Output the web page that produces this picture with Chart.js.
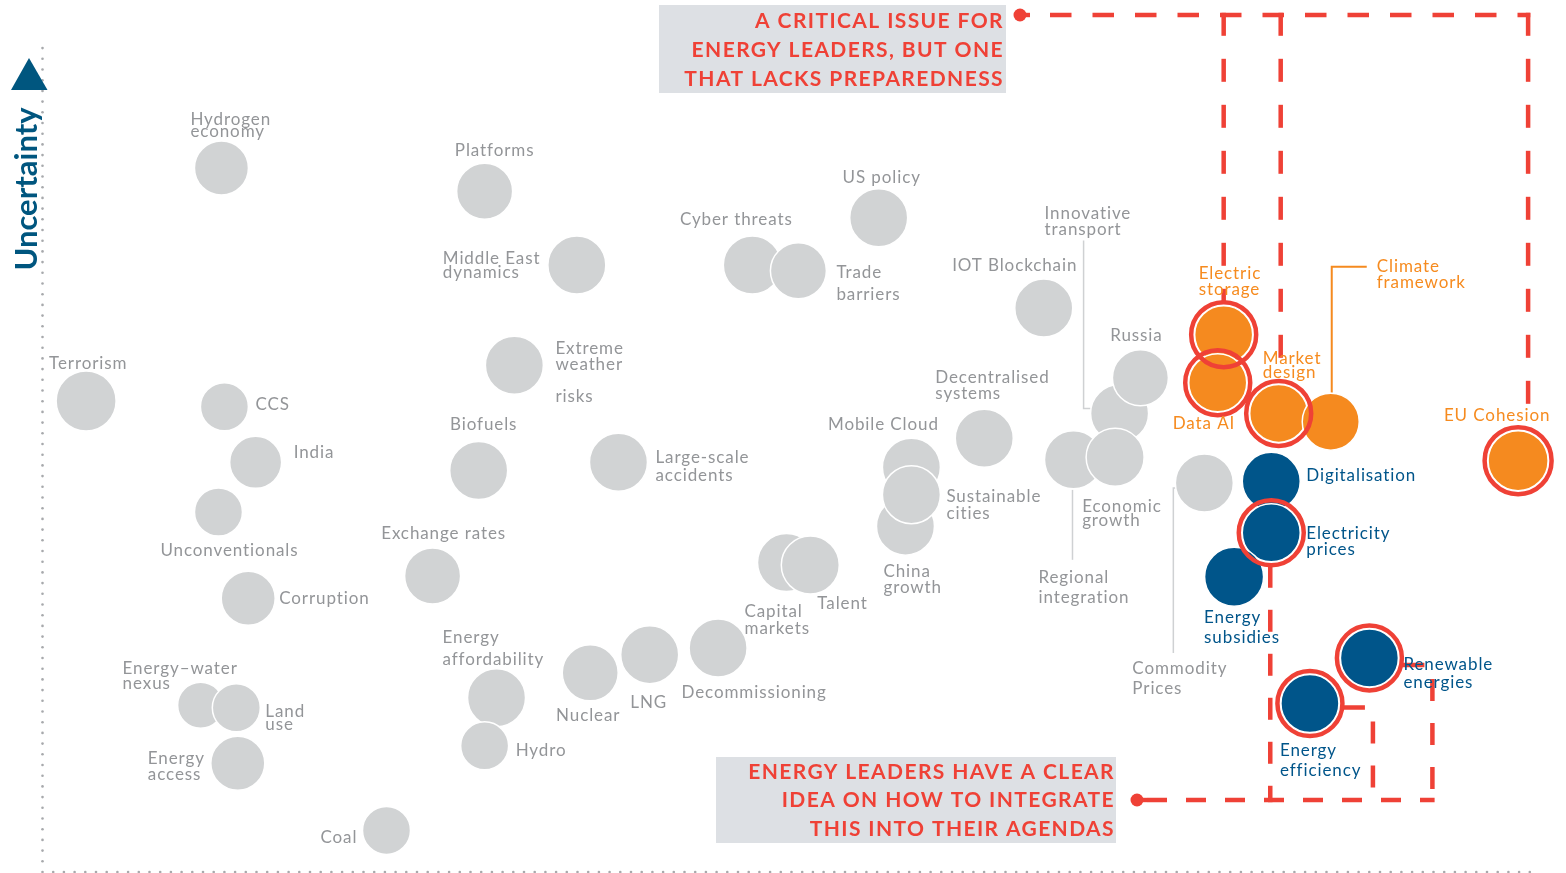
<!DOCTYPE html>
<html><head><meta charset="utf-8">
<script src="https://cdn.jsdelivr.net/npm/chart.js@4.4.1/dist/chart.umd.min.js"></script>
<style>html,body{margin:0;padding:0;background:#fff;overflow:hidden}canvas{display:block}</style>
</head><body>
<canvas id="c" width="1566" height="873"></canvas>
<script>
// ---------------- DATA ----------------
// x = impact (0-100), y = uncertainty (0-100), radius = bubble size
const grayIssues = ['Hydrogen\neconomy','Platforms','Middle East\ndynamics','Cyber threats','Trade\nbarriers','US policy','IOT Blockchain','Innovative\ntransport','Russia','Regional\nintegration','Economic\ngrowth','Commodity\nPrices','Decentralised\nsystems','Mobile Cloud','China\ngrowth','Sustainable\ncities','Capital\nmarkets','Talent','Decommissioning','LNG','Nuclear','Energy\naffordability','Hydro','Coal','Exchange rates','Large-scale\naccidents','Biofuels','Extreme\nweather\n\nrisks','Terrorism','CCS','India','Unconventionals','Corruption','Energy–water\nnexus','Land\nuse','Energy\naccess'];
const grayImpact = [12.0,29.7,35.9,47.7,50.8,56.2,67.3,72.4,73.8,69.3,72.1,78.1,63.3,58.4,58.0,58.4,50.0,51.6,45.4,40.8,36.8,30.5,29.7,23.1,26.2,38.7,29.3,31.7,2.9,12.2,14.3,11.8,13.8,10.6,13.0,13.1];
const grayUncertainty = [84.8,82.0,73.1,73.1,72.4,78.8,67.9,55.2,59.5,49.6,49.9,46.8,52.2,48.7,41.6,45.4,37.2,36.9,26.9,26.1,23.9,20.9,15.1,4.9,35.6,49.3,48.3,61.0,56.7,56.0,49.3,43.3,32.9,20.0,19.7,13.0];
const grayRadius = [27,28,29,29,28,29,29,29,28,29,29,29,29,29,29,29,29,29,29,29,28,29,24,24,28,29,29,29,30,24,26,24,27,23,24,27];

const orangeIssues = ['Electric\nstorage','Data AI','Market\ndesign','Climate\nframework','EU Cohesion'];
const orangeImpact = [79.4,79.0,83.1,86.6,99.2];
const orangeUncertainty = [64.7,58.9,55.2,54.2,49.5];
const orangeRadius = [29,29,29,28.5,30];

const blueIssues = ['Digitalisation','Electricity\nprices','Energy\nsubsidies','Renewable\nenergies','Energy\nefficiency'];
const blueImpact = [82.6,82.6,80.1,89.2,85.2];
const blueUncertainty = [47.0,40.8,35.5,25.7,20.2];
const blueRadius = [29,29,29.5,29,29];

const criticalIssues = ['Electric\nstorage','Data AI','Market\ndesign','EU Cohesion','Electricity\nprices','Renewable\nenergies','Energy\nefficiency'];

const axisTitle = 'Uncertainty';
const topCallout = ['A CRITICAL ISSUE FOR','ENERGY LEADERS, BUT ONE','THAT LACKS PREPAREDNESS'];
const bottomCallout = ['ENERGY LEADERS HAVE A CLEAR','IDEA ON HOW TO INTEGRATE','THIS INTO THEIR AGENDAS'];

// ---------------- LAYOUT / STYLE ----------------
// label offsets from bubble centre: [dx, dy, lineHeight, align]
const grayLabelPos = [[-31,-48,12,'l'],[10,-41,0,'c'],[-134,-6,14,'l'],[-16,-45,0,'c'],[38,2,22,'l'],[3,-40,0,'c'],[-29,-43,0,'c'],[-75,-200,16,'l'],[-4,-42,0,'c'],[-35,118,20,'l'],[-33,49,14,'l'],[-72,185,20,'l'],[-49,-61,16,'l'],[-28,-43,0,'c'],[-22,45,16,'l'],[35,2,17,'l'],[-42,49,17,'l'],[7,38,0,'l'],[36,45,0,'c'],[-1,48,0,'c'],[-2,43,0,'c'],[-54,-60,22,'l'],[31,5,0,'l'],[-66,7,0,'l'],[11,-42,0,'c'],[37,-5,18,'l'],[5,-46,0,'c'],[41,-17,16,'l'],[-37,-37,0,'l'],[31,-2,0,'l'],[38,-10,0,'l'],[11,38,0,'c'],[31,0,0,'l'],[-78,-37,15,'l'],[29,4,13,'l'],[-90,-5,16,'l']];
const orangeLabelPos = [[-25,-61,16,'l'],[-45,41,0,'l'],[-16,-55,14,'l'],[46,-155,16,'l'],[-21,-45,0,'c']];
const blueLabelPos = [[35,-6,0,'l'],[35,1,16,'l'],[-30,41,20,'l'],[34,7,18,'l'],[-30,47,20,'l']];
const connectors = [
  {name:'Innovative\ntransport', pts:[[-36,-173],[-36,-5],[-29,-5]], color:'#cfd1d3', w:1.5},
  {name:'Regional\nintegration', pts:[[-1,30],[-1,100]], color:'#cfd1d3', w:1.5},
  {name:'Commodity\nPrices', pts:[[-31,170],[-31,5],[-26,5]], color:'#cfd1d3', w:1.5},
  {name:'Climate\nframework', pts:[[1,-29],[1,-155],[36,-155]], color:'#f58a1f', w:2}
];
const COL = {gray:'#d1d3d4', grayText:'#939598', orange:'#f58a1f', orangeText:'#f68b1f', blue:'#00558a', blueText:'#00558a', red:'#ef4136', box:'#dde0e4', axis:'#a7a9ac', title:'#00567f'};

const groups = [
  {names: grayIssues, x: grayImpact, y: grayUncertainty, r: grayRadius, lab: grayLabelPos, text: COL.grayText, ds: 3},
  {names: orangeIssues, x: orangeImpact, y: orangeUncertainty, r: orangeRadius, lab: orangeLabelPos, text: COL.orangeText, ds: 2},
  {names: blueIssues, x: blueImpact, y: blueUncertainty, r: blueRadius, lab: blueLabelPos, text: COL.blueText, ds: 1}
];
function pts(g){ return g.names.map((n,i)=>({x:g.x[i], y:g.y[i], r:g.r[i]})); }
function lookup(name){
  for (const g of groups){ const i = g.names.indexOf(name); if (i>=0) return {g, i}; }
  return null;
}
const ringData = criticalIssues.map(n => { const f = lookup(n); return {x: f.g.x[f.i], y: f.g.y[f.i], r: f.g.r[f.i] + 3.5}; });

function P(chart, name){
  const f = lookup(name);
  const el = chart.getDatasetMeta(f.g.ds).data[f.i];
  return {x: el.x, y: el.y, r: f.g.r[f.i]};
}

function dashed(ctx, points, dash, offset){
  ctx.save();
  ctx.strokeStyle = COL.red; ctx.lineWidth = 4.5; ctx.lineCap = 'butt';
  ctx.setLineDash(dash || [22,22]); ctx.lineDashOffset = offset || 0;
  ctx.beginPath(); ctx.moveTo(points[0][0], points[0][1]);
  for (let k=1;k<points.length;k++) ctx.lineTo(points[k][0], points[k][1]);
  ctx.stroke(); ctx.restore();
}
function dot(ctx, x, y){
  ctx.save(); ctx.fillStyle = COL.red; ctx.beginPath(); ctx.arc(x,y,6.5,0,Math.PI*2); ctx.fill();
  ctx.fillRect(x, y-2.2, 10, 4.4); ctx.restore();
}
function callout(ctx, lines, right, box, lineYs){
  ctx.save();
  ctx.fillStyle = COL.box; ctx.fillRect(box[0], box[1], box[2]-box[0], box[3]-box[1]);
  ctx.fillStyle = COL.red; ctx.font = 'bold 21px Lato'; ctx.textAlign = 'right'; ctx.textBaseline = 'middle';
  ctx.letterSpacing = '1.4px';
  lines.forEach((t,i)=> ctx.fillText(t, right, lineYs[i]));
  ctx.restore();
}

const decor = {
  id: 'decor',
  beforeDatasetsDraw(chart){
    const ctx = chart.ctx, a = chart.chartArea;
    // dotted axes
    ctx.save(); ctx.fillStyle = COL.axis;
    for (let y = a.bottom + 1; y >= a.top; y -= 10.7){ ctx.beginPath(); ctx.arc(a.left - 0.5, y, 1.3, 0, Math.PI*2); ctx.fill(); }
    for (let x = a.left - 0.5 + 10.7; x <= a.right; x += 10.7){ ctx.beginPath(); ctx.arc(x, a.bottom + 1, 1.3, 0, Math.PI*2); ctx.fill(); }
    ctx.restore();
    // axis arrow + title
    ctx.save(); ctx.fillStyle = COL.title;
    ctx.beginPath(); ctx.moveTo(29, 58); ctx.lineTo(47.5, 90); ctx.lineTo(11, 90); ctx.closePath(); ctx.fill();
    ctx.translate(36.5, 189); ctx.rotate(-Math.PI/2);
    ctx.font = 'bold 31px Lato'; ctx.textAlign = 'center'; ctx.textBaseline = 'alphabetic';
    ctx.fillText(axisTitle, 0, 0);
    ctx.restore();
    // callout boxes
    callout(ctx, topCallout, 1004, [659,5,1006,93], [21,50,79]);
    callout(ctx, bottomCallout, 1115, [716,757,1116,843], [772,800,829]);
    // grey / orange connectors
    connectors.forEach(c => {
      const p = P(chart, c.name);
      ctx.save(); ctx.strokeStyle = c.color; ctx.lineWidth = c.w; ctx.beginPath();
      c.pts.forEach((q,k)=>{ const X = p.x+q[0], Y = p.y+q[1]; k ? ctx.lineTo(X,Y) : ctx.moveTo(X,Y); });
      ctx.stroke(); ctx.restore();
    });
    // red dashed guides (top)
    const es = P(chart,'Electric\nstorage'), md = P(chart,'Market\ndesign'), eu = P(chart,'EU Cohesion');
    const topY = 15;
    dot(ctx, 1020, topY);
    dashed(ctx, [[1029, topY],[eu.x+10+2.2, topY]], [21.5,21], 21.5);
    dashed(ctx, [[es.x, topY-2.2],[es.x, es.y-es.r-4]], [23,23]);
    dashed(ctx, [[md.x+2, topY-2.2],[md.x+2, md.y-md.r-4]], [23,23]);
    dashed(ctx, [[eu.x+10, topY-2.2],[eu.x+10, eu.y-eu.r-4]], [23,23]);
    // bottom
    const ep = P(chart,'Electricity\nprices'), re = P(chart,'Renewable\nenergies'), ee = P(chart,'Energy\nefficiency');
    const botY = 800;
    dot(ctx, 1137, botY);
    dashed(ctx, [[1147, botY],[re.x+63+2.2, botY]], [20,19], 0);
    dashed(ctx, [[ep.x-1, ep.y+ep.r+4],[ep.x-1, botY+2.2]], [22,22]);
    dashed(ctx, [[ee.x+ee.r+4, ee.y+4],[ee.x+63, ee.y+4],[ee.x+63, botY+2.2]], [22,22]);
    dashed(ctx, [[re.x+re.r+4, re.y+7],[re.x+63, re.y+7],[re.x+63, botY+2.2]], [22,22]);
  },
  afterDatasetsDraw(chart){
    const ctx = chart.ctx;
    ctx.save();
    ctx.font = '17px Lato'; ctx.textBaseline = 'middle';
    ctx.letterSpacing = '0.9px';
    groups.forEach(g => {
      const meta = chart.getDatasetMeta(g.ds);
      g.names.forEach((n,i) => {
        const el = meta.data[i], L = g.lab[i];
        ctx.fillStyle = g.text; ctx.textAlign = L[3]==='c' ? 'center' : 'left';
        n.split('\n').forEach((line,k) => ctx.fillText(line, el.x + L[0], el.y + L[1] + k*L[2]));
      });
    });
    ctx.restore();
  }
};

new Chart(document.getElementById('c'), {
  type: 'bubble',
  data: {
    datasets: [
      {label:'critical', data: ringData, backgroundColor:'rgba(0,0,0,0)', borderColor: COL.red, borderWidth: 4.5, clip: false},
      {label:'blue', data: pts(groups[2]), backgroundColor: COL.blue, borderColor:'#fff', borderWidth: 1.5, clip: false},
      {label:'orange', data: pts(groups[1]), backgroundColor: COL.orange, borderColor:'#fff', borderWidth: 1.5, clip: false},
      {label:'gray', data: pts(groups[0]), backgroundColor: COL.gray, borderColor:'#fff', borderWidth: 1.5, clip: false}
    ]
  },
  options: {
    responsive: false, devicePixelRatio: 1, animation: false, events: [],
    layout: {autoPadding: false, padding: {left: 43, right: 36, top: 42, bottom: 2}},
    scales: {
      x: {type:'linear', min: 0, max: 100, display: false},
      y: {type:'linear', min: 0, max: 100, display: false}
    },
    plugins: {legend: {display: false}, tooltip: {enabled: false}}
  },
  plugins: [decor]
});
</script>
</body></html>
